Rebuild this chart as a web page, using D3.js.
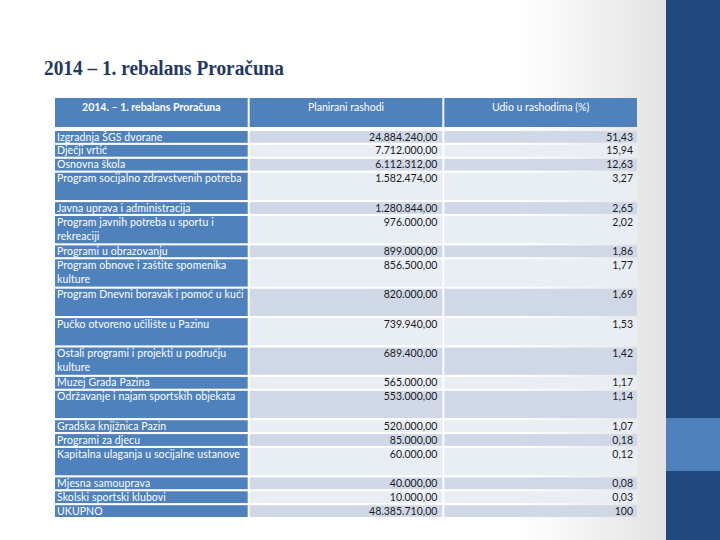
<!DOCTYPE html>
<html>
<head>
<meta charset="utf-8">
<script src="https://cdn.jsdelivr.net/npm/d3@7"></script>
<style>
  body { margin: 0; background: #fff; }
  svg { display: block; }
</style>
</head>
<body>
<div id="chart"></div>
<script>
// Table contents (each label is a list of text lines, "" = empty paragraph)
const headers = ["2014. – 1. rebalans Proračuna", "Planirani rashodi", "Udio u rashodima (%)"];
const categories = [
  ["Izgradnja ŠGS dvorane"],
  ["Dječji vrtić"],
  ["Osnovna škola"],
  ["Program socijalno zdravstvenih potreba", ""],
  ["Javna uprava i administracija"],
  ["Program javnih potreba u sportu i", "rekreaciji"],
  ["Programi u obrazovanju"],
  ["Program obnove i zaštite spomenika", "kulture"],
  ["Program Dnevni boravak i pomoć u kući", ""],
  ["Pučko otvoreno učilište u Pazinu", ""],
  ["Ostali programi i projekti u području", "kulture"],
  ["Muzej Grada Pazina"],
  ["Održavanje i najam sportskih objekata", ""],
  ["Gradska knjižnica Pazin"],
  ["Programi za djecu"],
  ["Kapitalna ulaganja u socijalne ustanove", ""],
  ["Mjesna samouprava"],
  ["Školski sportski klubovi"],
  ["UKUPNO"]
];
const planned = [
  24884240, 7712000, 6112312, 1582474, 1280844, 976000, 899000, 856500, 820000,
  739940, 689400, 565000, 553000, 520000, 85000, 60000, 40000, 10000, 48385710
];
const shares = [
  51.43, 15.94, 12.63, 3.27, 2.65, 2.02, 1.86, 1.77, 1.69,
  1.53, 1.42, 1.17, 1.14, 1.07, 0.18, 0.12, 0.08, 0.03, 100
];

const W = 720, H = 540;
const blue = "#4F81BD", darkRow = "#D0D8E8", lightRow = "#E9EDF4";
const tableFont = "Lato, 'Open Sans', sans-serif";

const hr = d3.formatLocale({decimal: ",", thousands: ".", grouping: [3], currency: ["", ""]});
const fmtMoney = hr.format(",.2f");
const fmtShare = v => Number.isInteger(v) ? String(v) : hr.format(".2f")(v);

const svg = d3.select("#chart").append("svg")
  .attr("width", W)
  .attr("height", H);

// slide background: white fading to light grey towards the right band
const defs = svg.append("defs");
const grad = defs.append("linearGradient").attr("id", "bg").attr("x1", "0").attr("x2", "1");
grad.append("stop").attr("offset", "0.78").attr("stop-color", "#ffffff");
grad.append("stop").attr("offset", "1").attr("stop-color", "#e3e3e3");
svg.append("rect").attr("width", 666).attr("height", H).attr("fill", "url(#bg)");

// right decorative band
svg.append("rect").attr("x", 666).attr("y", 0).attr("width", 54).attr("height", H).attr("fill", "#1F497D");
svg.append("rect").attr("x", 666).attr("y", 418).attr("width", 54).attr("height", 53).attr("fill", blue);

// title
svg.append("text")
  .attr("x", 44)
  .attr("y", 75)
  .attr("textLength", 240)
  .attr("lengthAdjust", "spacingAndGlyphs")
  .style("font-family", "'Liberation Serif', 'DejaVu Serif', serif")
  .style("font-weight", "700")
  .style("font-size", "20.5px")
  .style("fill", "#1F3864")
  .text("2014 – 1. rebalans Proračuna");

// columns
const x = d3.scaleBand()
  .domain(d3.range(headers.length))
  .range([55, 637])
  .paddingInner(0.01);

// rows: height depends on line count
const headerTop = 98, headerH = 29, bodyTop = 131;
const singleH = 11.8, extraLine = 15.5, gap = 2.1;
const rows = categories.map((lines, i) => ({
  lines, planned: planned[i], share: shares[i], i
}));
let yCur = bodyTop;
rows.forEach(r => {
  r.y = yCur;
  r.h = singleH + (r.lines.length - 1) * extraLine;
  yCur += r.h + gap;
});

const table = svg.append("g");

// header cells
table.selectAll(".hcell")
  .data(headers)
  .enter().append("rect")
  .attr("x", (d, i) => x(i))
  .attr("y", headerTop)
  .attr("width", x.bandwidth())
  .attr("height", headerH)
  .attr("fill", blue);

table.selectAll(".htext")
  .data(headers)
  .enter().append("text")
  .attr("x", (d, i) => x(i) + x.bandwidth() / 2)
  .attr("y", headerTop + 13)
  .attr("text-anchor", "middle")
  .style("font-family", tableFont)
  .style("font-size", "10.5px")
  .style("font-weight", (d, i) => i === 0 ? "700" : "400")
  .style("fill", "#fff")
  .text(d => d);

// body rows
const rowG = table.selectAll(".row")
  .data(rows)
  .enter().append("g")
  .attr("class", "row")
  .attr("transform", d => `translate(0,${d.y})`);

rowG.append("rect")
  .attr("x", x(0)).attr("width", x.bandwidth())
  .attr("height", d => d.h)
  .attr("fill", blue);

[1, 2].forEach(c => {
  rowG.append("rect")
    .attr("x", x(c)).attr("width", x.bandwidth())
    .attr("height", d => d.h)
    .attr("fill", d => d.i % 2 === 0 ? darkRow : lightRow);
});

rowG.each(function(d) {
  const g = d3.select(this);
  d.lines.forEach((line, k) => {
    g.append("text")
      .attr("x", x(0) + 2)
      .attr("y", 9.5 + k * 14)
      .style("font-family", tableFont)
      .style("font-size", "10.5px")
      .style("letter-spacing", "0.1px")
      .style("fill", "#fff")
      .text(line);
  });
});

rowG.append("text")
  .attr("x", x(1) + x.bandwidth() - 5)
  .attr("y", 9.5)
  .attr("text-anchor", "end")
  .style("font-family", tableFont)
  .style("font-size", "10.5px")
  .style("fill", "#1a1a1a")
  .text(d => fmtMoney(d.planned));

rowG.append("text")
  .attr("x", x(2) + x.bandwidth() - 4)
  .attr("y", 9.5)
  .attr("text-anchor", "end")
  .style("font-family", tableFont)
  .style("font-size", "10.5px")
  .style("fill", "#1a1a1a")
  .text(d => fmtShare(d.share));
</script>
</body>
</html>
